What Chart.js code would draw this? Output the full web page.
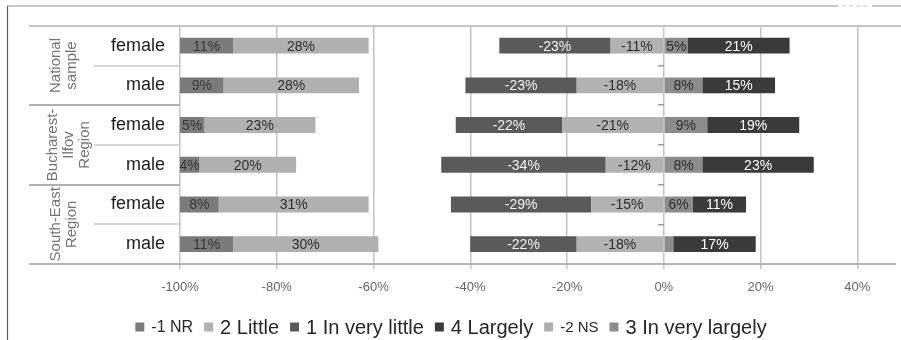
<!DOCTYPE html>
<html>
<head>
<meta charset="utf-8">
<script src="https://cdn.jsdelivr.net/npm/chart.js@4.4.1/dist/chart.umd.min.js"></script>
<style>
  html, body { margin: 0; padding: 0; background: #fff; }
  #wrap { position: relative; width: 901px; height: 340px; }
</style>
</head>
<body>
<div id="wrap"><canvas id="c" width="901" height="340"></canvas></div>
<script>
// Row categories (top to bottom) and their regional groups
const rows = ['female', 'male', 'female', 'male', 'female', 'male'];
const groups = [['National', 'sample'], ['Bucharest-', 'Ilfov', 'Region'], ['South-East', 'Region']];
const xTickValues = [-100, -80, -60, -40, -20, 0, 20, 40];

// Non-responses, stacked rightwards from -100%
const nr = [11, 9, 5, 4, 8, 11];
const ns = [28, 28, 23, 20, 31, 30];
// Answers, diverging around 0%
const inVeryLittle = [-23, -23, -22, -34, -29, -22];
const little = [-11, -18, -21, -12, -15, -18];
const inVeryLargely = [5, 8, 9, 8, 6, 2];
const largely = [21, 15, 19, 23, 11, 17];

// Floating [start, end] ranges built from the shares
const nrRange = nr.map(v => [-100, -100 + v]);
const nsRange = ns.map((v, i) => [-100 + nr[i], -100 + nr[i] + v]);
const littleRange = little.map(v => [v, 0]);
const veryLittleRange = inVeryLittle.map((v, i) => [little[i] + v, little[i]]);
const veryLargelyRange = inVeryLargely.map(v => [0, v]);
const largelyRange = largely.map((v, i) => [inVeryLargely[i], inVeryLargely[i] + v]);

const legendFontPx = [16, 20, 20, 20, 15, 20];
const FONT = '"Liberation Sans", Arial, Helvetica, sans-serif';
const NARROW = '"Liberation Sans Narrow", "Arial Narrow", "Liberation Sans", Arial, sans-serif';

const datasets = [
  { label: '-1 NR', data: nrRange, values: nr, backgroundColor: '#7b7b7b', labelColor: '#383838' },
  { label: '2 Little', data: littleRange, values: little, backgroundColor: '#b2b2b2', labelColor: '#2e2e2e' },
  { label: '1 In very little', data: veryLittleRange, values: inVeryLittle, backgroundColor: '#5a5a5a', labelColor: '#f2f2f2' },
  { label: '4 Largely', data: largelyRange, values: largely, backgroundColor: '#3a3a3a', labelColor: '#ffffff' },
  { label: '-2 NS', data: nsRange, values: ns, backgroundColor: '#b0b0b0', labelColor: '#2e2e2e' },
  { label: '3 In very largely', data: veryLargelyRange, values: inVeryLargely, backgroundColor: '#8c8c8c', labelColor: '#2e2e2e' }
];

// Percentage labels in the middle of each segment
const segmentLabels = {
  id: 'segmentLabels',
  afterDatasetsDraw(chart) {
    const ctx = chart.ctx;
    ctx.save();
    ctx.font = '14px ' + NARROW;
    ctx.textAlign = 'center';
    ctx.textBaseline = 'middle';
    chart.data.datasets.forEach((ds, di) => {
      chart.getDatasetMeta(di).data.forEach((bar, i) => {
        const v = ds.values[i];
        if (Math.abs(v) < 3) return;
        const p = bar.getProps(['x', 'base', 'y'], true);
        ctx.fillStyle = ds.labelColor;
        ctx.fillText(v + '%', (p.x + p.base) / 2, p.y + 1);
      });
    });
    ctx.restore();
  }
};

// Frame, table rules and rotated group captions on the left
const tableFrame = {
  id: 'tableFrame',
  beforeDraw(chart) {
    const ctx = chart.ctx;
    ctx.save();
    ctx.strokeStyle = '#c9c9c9';
    ctx.lineWidth = 2;
    ctx.beginPath();
    ctx.moveTo(7, 6); ctx.lineTo(838, 6);
    ctx.moveTo(872, 6); ctx.lineTo(901, 6);
    ctx.stroke();
    ctx.setLineDash([4, 3]);
    ctx.strokeStyle = '#e2e2e2';
    ctx.beginPath(); ctx.moveTo(842, 6); ctx.lineTo(870, 6); ctx.stroke();
    ctx.setLineDash([]);
    ctx.strokeStyle = '#5e5e5e';
    ctx.lineWidth = 1.2;
    ctx.beginPath(); ctx.moveTo(7.5, 6); ctx.lineTo(7.5, 340); ctx.stroke();
    ctx.restore();
  },
  beforeDatasetsDraw(chart) {
    const { ctx, chartArea: a, scales: { y } } = chart;
    const py = k => Math.round(y.getPixelForValue(k));
    const rule = (x1, x2, yy, color, w) => {
      ctx.strokeStyle = color; ctx.lineWidth = w;
      ctx.beginPath(); ctx.moveTo(x1, yy); ctx.lineTo(x2, yy); ctx.stroke();
    };
    ctx.save();
    rule(29, 901, py(-0.5), '#c6c6c6', 2);
    rule(29, a.left, py(1.5), '#b0b0b0', 2);
    rule(29, a.left, py(3.5), '#b0b0b0', 2);
    rule(29, a.right, py(5.5), '#b4b4b4', 2);
    [0.5, 2.5, 4.5].forEach(k => rule(94, a.left, py(k), '#c8c8c8', 1.5));

    ctx.fillStyle = '#747474';
    ctx.font = '15px ' + FONT;
    ctx.textAlign = 'center';
    ctx.textBaseline = 'middle';
    groups.forEach((lines, g) => {
      const cy = y.getPixelForValue(2 * g + 0.5);
      const step = 16;
      const cx = lines.length === 3 ? 69 : 64;
      lines.forEach((t, j) => {
        const lx = cx + (j - (lines.length - 1) / 2) * step;
        ctx.save();
        ctx.translate(lx, cy);
        ctx.rotate(-Math.PI / 2);
        ctx.fillText(t, 0, 0);
        ctx.restore();
      });
    });
    ctx.restore();
  },
  afterDraw(chart) {
    // legend row with per-entry type sizes
    const ctx = chart.ctx;
    const box = 9, gapText = 7, gapItem = 11, cy = 327;
    ctx.save();
    const items = chart.data.datasets.map((ds, i) => {
      const font = legendFontPx[i] + 'px ' + FONT;
      ctx.font = font;
      return { ds, font, w: ctx.measureText(ds.label).width };
    });
    const total = items.reduce((s, it) => s + box + gapText + it.w, 0) + gapItem * (items.length - 1);
    let x = 451 - total / 2;
    ctx.textBaseline = 'middle';
    ctx.textAlign = 'left';
    items.forEach(it => {
      ctx.fillStyle = it.ds.backgroundColor;
      ctx.fillRect(x, cy - box / 2, box, box);
      x += box + gapText;
      ctx.font = it.font;
      ctx.fillStyle = '#262626';
      ctx.fillText(it.ds.label, x, cy + 1);
      x += it.w + gapItem;
    });
    ctx.restore();
  }
};

new Chart(document.getElementById('c'), {
  type: 'bar',
  data: { labels: rows, datasets },
  options: {
    indexAxis: 'y',
    responsive: false,
    animation: false,
    layout: { padding: { left: 30, right: 5, top: 24, bottom: 0 } },
    datasets: { bar: { grouped: false, categoryPercentage: 0.8, barPercentage: 0.5 } },
    plugins: { legend: { display: false }, tooltip: { enabled: false } },
    scales: {
      x: {
        min: -100,
        max: 48,
        afterBuildTicks: s => { s.ticks = xTickValues.map(v => ({ value: v })); },
        afterFit: s => { s.height = 76; },
        grid: { color: '#c4c4c4', lineWidth: 1.5, tickLength: 5 },
        border: { display: false },
        ticks: {
          padding: 11,
          color: '#666666',
          autoSkip: false,
          maxRotation: 0,
          font: { family: NARROW, size: 13 },
          callback: v => v + '%'
        }
      },
      y: {
        offset: true,
        afterFit: s => { s.width = 150; },
        grid: { display: false, drawTicks: false },
        border: { display: false },
        ticks: { padding: 15, color: '#1c1c1c', font: { family: FONT, size: 18 } }
      },
      y2: {
        type: 'category',
        position: { x: 0 },
        offset: true,
        grid: { offset: true, drawOnChartArea: false, tickLength: 6, color: '#9a9a9a', lineWidth: 1.5 },
        border: { display: false },
        ticks: { display: false }
      }
    }
  },
  plugins: [tableFrame, segmentLabels]
});
</script>
</body>
</html>
